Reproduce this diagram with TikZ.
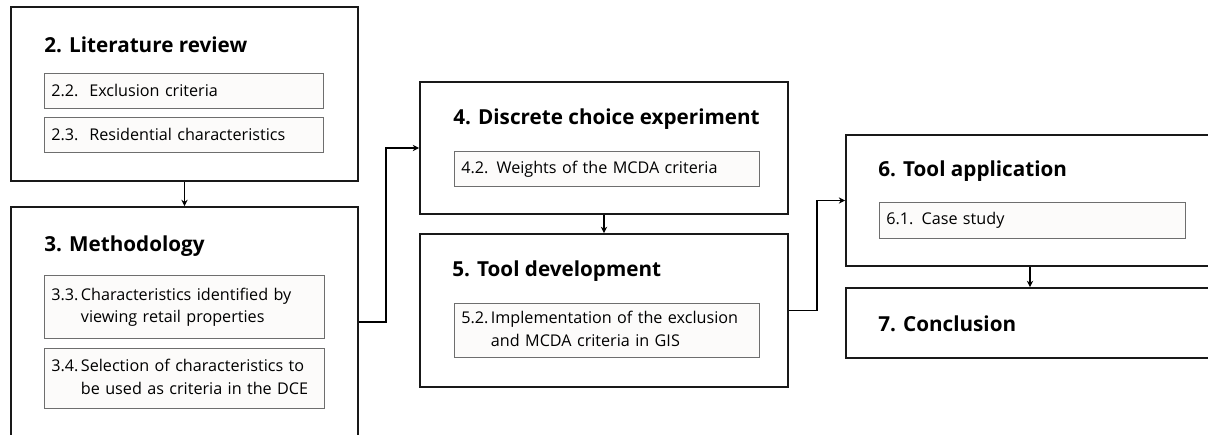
\documentclass[tikz,border=0pt]{standalone}
\usepackage{fontspec}
\setmainfont{Open Sans}
\usetikzlibrary{arrows.meta}
\newcommand\pxu{0.025cm}
\definecolor{subfill}{HTML}{FCFBFA}
\definecolor{subline}{HTML}{6E6E6E}

\begin{document}
\begin{tikzpicture}[x=\pxu, y=-\pxu,
chap/.style 2 args={draw=black!90, line width=1.3pt, minimum width=#1*\pxu,
minimum height=#2*\pxu, inner sep=0pt},
ttl/.style={anchor=base west, inner sep=0pt, font=\fontsize{14.7}{17}\selectfont\bfseries},
sub/.style 2 args={draw=subline, fill=subfill, line width=0.6pt, anchor=north west,
minimum width=#1*\pxu, minimum height=#2*\pxu, text width=#1*\pxu-14*\pxu,
inner xsep=7*\pxu, inner ysep=0pt, align=left, font=\fontsize{11.5}{16}\selectfont},
edge/.style={-{Stealth[length=4.5pt,width=4.5pt]}, line width=1.1pt}
]
\useasboundingbox (0,0) rectangle (1208,434);
\clip (0,0) rectangle (1208,434);

\node[chap={347}{174}] (lit) at (184.5,94) {};
\node[ttl] (litT) at (44,52) {2. Literature review};
\node[sub={279}{35}] (lit22) at (44,73) {2.2.\ \ Exclusion criteria};
\node[sub={279}{35}] (lit23) at (44,117) {2.3.\ \ Residential characteristics};

\node[chap={347}{230}] (meth) at (184.5,322) {};
\node[ttl] (methT) at (44,251) {3. Methodology};
\node[sub={280}{63}] (meth33) at (44,275) {\begin{tabular}{@{}l@{\hspace{0.15em}}l@{}}3.3. & Characteristics identified by\\ & viewing retail properties\end{tabular}};
\node[sub={280}{60}] (meth34) at (44,348) {\begin{tabular}{@{}l@{\hspace{0.15em}}l@{}}3.4. & Selection of characteristics to\\ & be used as criteria in the DCE\end{tabular}};

\node[chap={368}{132}] (dce) at (604,148) {};
\node[ttl] (dceT) at (453,124) {4. Discrete choice experiment};
\node[sub={305}{35}] (dce42) at (454,151) {4.2. Weights of the MCDA criteria};

\node[chap={368}{153}] (dev) at (604,310.5) {};
\node[ttl] (devT) at (452,276) {5. Tool development};
\node[sub={305}{54}] (dev52) at (454,303) {\begin{tabular}{@{}l@{\hspace{0.15em}}l@{}}5.2. & Implementation of the exclusion\\ & and MCDA criteria in GIS\end{tabular}};

\node[chap={368}{131}] (app) at (1030,200.5) {};
\node[ttl] (appT) at (878,176) {6. Tool application};
\node[sub={306}{36}] (app61) at (879,202) {6.1. Case study};

\node[chap={368}{70}] (concl) at (1030,323) {};
\node[ttl] (conclT) at (878,331) {7. Conclusion};

\draw[edge] (lit) -- (meth);
\draw[edge] (dce) -- (dev);
\draw[edge] (app) -- (concl);
\draw[edge] (meth.east) -- ++(27,0) |- (dce.west);
\draw[edge] (dev.east) -- ++(28,0) |- (app.west);
\end{tikzpicture}
\end{document}
